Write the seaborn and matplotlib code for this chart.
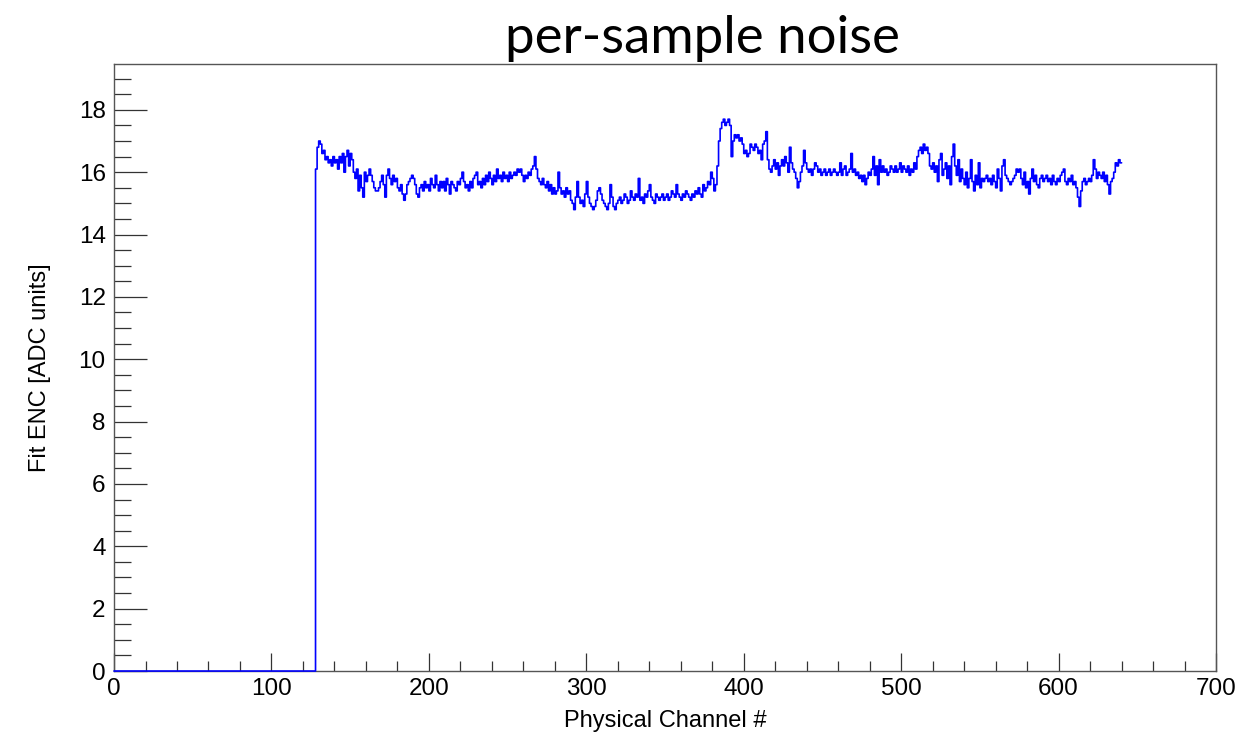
import numpy as np
import pandas as pd
import matplotlib
matplotlib.use("Agg")
import matplotlib.pyplot as plt
import seaborn as sns
from matplotlib.ticker import MultipleLocator

# ---- data -------------------------------------------------------------
first_channel = 128          # channels below this read 0
n_channels = 640
noise = [
    16.1, 16.8, 17.0, 16.9, 16.6, 16.7, 16.4, 16.5, 16.3, 16.4, 16.2, 16.5, 16.3, 16.4, 16.1, 16.5,
    16.3, 16.6, 16.0, 16.5, 16.7, 16.2, 16.6, 16.4, 16.0, 15.8, 16.1, 15.4, 15.9, 15.5, 15.2, 16.0,
    15.7, 15.9, 16.1, 15.9, 15.7, 15.5, 15.4, 15.4, 15.5, 15.7, 15.9, 15.6, 15.2, 15.9, 16.1, 15.8,
    15.6, 15.9, 15.7, 15.8, 15.5, 15.4, 15.6, 15.3, 15.1, 15.3, 15.6, 15.7, 15.8, 15.9, 15.8, 15.6,
    15.3, 15.2, 15.5, 15.6, 15.4, 15.7, 15.5, 15.6, 15.4, 15.8, 15.6, 15.5, 15.9, 15.6, 15.4, 15.7,
    15.5, 15.7, 15.4, 15.8, 15.6, 15.3, 15.7, 15.6, 15.5, 15.4, 15.7, 15.6, 15.8, 16.0, 15.7, 15.5,
    15.6, 15.4, 15.7, 15.5, 15.8, 15.9, 16.0, 15.6, 15.7, 15.5, 15.8, 15.6, 15.9, 15.7, 16.0, 15.8,
    15.6, 15.9, 15.7, 16.1, 15.8, 15.9, 15.7, 16.0, 15.8, 15.9, 15.7, 16.0, 15.8, 15.9, 16.0, 15.9,
    16.1, 16.0, 16.1, 15.9, 15.7, 15.9, 15.8, 16.0, 15.9, 16.1, 16.2, 16.5, 16.1, 15.8, 15.7, 15.6,
    15.8, 15.6, 15.5, 15.7, 15.4, 15.6, 15.3, 15.5, 15.3, 15.4, 16.0, 15.5, 15.3, 15.4, 15.2, 15.5,
    15.3, 15.4, 15.1, 15.0, 14.8, 15.2, 15.7, 15.2, 15.0, 15.1, 14.9, 15.3, 15.7, 15.2, 15.0, 14.9,
    14.8, 14.9, 15.1, 15.4, 15.5, 15.3, 15.1, 15.0, 14.9, 14.8, 15.0, 15.6, 15.2, 14.9, 14.8, 15.0,
    15.1, 15.2, 15.0, 15.1, 15.3, 15.2, 15.0, 15.1, 15.4, 15.2, 15.1, 15.3, 15.2, 15.8, 15.1, 15.2,
    15.0, 15.3, 15.2, 15.4, 15.6, 15.2, 15.1, 15.0, 15.3, 15.2, 15.1, 15.2, 15.3, 15.1, 15.2, 15.3,
    15.1, 15.2, 15.4, 15.3, 15.2, 15.6, 15.3, 15.2, 15.1, 15.3, 15.2, 15.4, 15.3, 15.2, 15.1, 15.3,
    15.2, 15.4, 15.3, 15.5, 15.3, 15.2, 15.6, 15.4, 15.5, 15.7, 15.6, 16.0, 15.8, 15.4, 15.6, 16.2,
    17.0, 17.4, 17.6, 17.7, 17.5, 17.6, 17.7, 17.5, 16.5, 17.0, 17.2, 17.1, 17.2, 17.0, 17.1, 16.9,
    16.6, 16.7, 16.5, 16.6, 16.9, 16.8, 16.7, 16.9, 16.8, 16.6, 16.7, 16.4, 16.9, 17.0, 17.3, 16.4,
    16.1, 16.0, 16.2, 16.4, 16.1, 16.3, 15.9, 16.2, 16.4, 16.2, 16.5, 16.3, 16.0, 16.8, 16.3, 16.1,
    16.0, 15.8, 15.5, 15.7, 16.0, 16.2, 16.7, 16.3, 16.1, 16.0, 16.1, 15.9, 16.1, 16.3, 16.2, 16.0,
    16.1, 15.9, 16.0, 16.1, 15.9, 16.0, 16.1, 15.9, 16.0, 16.1, 16.0, 15.9, 16.0, 16.3, 15.9, 16.1,
    16.2, 15.9, 16.0, 16.1, 16.6, 16.0, 16.1, 15.9, 16.0, 15.8, 15.9, 15.7, 15.9, 15.6, 15.8, 16.0,
    15.9, 16.1, 16.5, 15.9, 16.2, 15.6, 16.4, 16.0, 16.2, 16.0, 16.1, 15.9, 16.0, 16.2, 16.1, 16.0,
    16.2, 16.0, 16.1, 16.3, 16.0, 16.2, 16.1, 16.0, 16.2, 15.9, 16.1, 16.0, 16.3, 16.1, 16.5, 16.7,
    16.8, 16.6, 16.9, 16.7, 16.8, 16.6, 16.2, 16.1, 16.3, 16.0, 16.2, 15.7, 16.4, 16.6, 15.9, 16.1,
    16.3, 15.8, 16.2, 15.6, 16.5, 16.9, 16.2, 15.9, 16.4, 15.7, 16.1, 15.8, 15.6, 16.0, 15.5, 15.8,
    16.4, 15.7, 15.4, 15.9, 15.6, 16.3, 15.5, 15.8, 15.7, 15.8, 15.9, 15.7, 15.8, 15.6, 15.9, 15.7,
    15.5, 16.1, 15.8, 15.4, 16.2, 16.4, 15.9, 15.8, 15.7, 15.6, 15.7, 15.8, 15.9, 16.1, 16.0, 16.1,
    15.8, 15.6, 16.0, 15.5, 15.7, 15.3, 15.8, 16.1, 15.7, 15.9, 15.6, 15.5, 15.8, 15.9, 15.7, 15.8,
    15.9, 15.7, 15.8, 15.6, 15.9, 15.7, 15.6, 15.8, 15.7, 15.9, 16.0, 16.1, 15.7, 15.6, 15.8, 15.7,
    15.9, 15.6, 15.7, 15.5, 15.2, 14.9, 15.4, 15.7, 15.8, 15.6, 15.7, 15.8, 15.7, 15.9, 16.4, 16.1,
    15.8, 16.0, 15.9, 15.8, 16.0, 15.7, 15.9, 15.6, 15.3, 15.7, 15.8, 16.0, 16.3, 16.2, 16.4, 16.3,
]
x_ticks = [0, 100, 200, 300, 400, 500, 600, 700]
y_ticks = [0, 2, 4, 6, 8, 10, 12, 14, 16, 18]
title = "per-sample noise"
x_label = "Physical Channel #"
y_label = "Fit ENC [ADC units]"

# ---- build histogram edges -----------------------------------------------
values = np.concatenate([np.zeros(first_channel), np.array(noise)])
edges = np.arange(0, n_channels + 1)
heights = np.append(values, values[-1])
df = pd.DataFrame({"channel": edges, "enc": heights})

# ---- plot -------------------------------------------------------------
sns.set_theme(style="ticks")
plt.rcParams["font.family"] = ["Liberation Sans", "DejaVu Sans"]
plt.rcParams["text.color"] = "black"
plt.rcParams["axes.labelcolor"] = "black"
plt.rcParams["xtick.labelcolor"] = "black"
plt.rcParams["ytick.labelcolor"] = "black"

fig = plt.figure(figsize=(12.53, 7.34), dpi=100)
ax = fig.add_axes([0.091, 0.0858, 0.8795, 0.827])

sns.lineplot(data=df, x="channel", y="enc", drawstyle="steps-post",
             color="#0000ff", linewidth=1.2, estimator=None, ax=ax,
             clip_on=False, zorder=5)

ax.set_xlim(0, 700)
ax.set_ylim(0, 19.47)
ax.set_xticks(x_ticks)
ax.set_yticks(y_ticks)
ax.xaxis.set_minor_locator(MultipleLocator(20))
ax.yaxis.set_minor_locator(MultipleLocator(0.5))

ax.tick_params(axis="x", which="major", direction="in", length=13, width=0.9,
               color="#333333", labelsize=17.5, pad=5, labelcolor="black")
ax.tick_params(axis="x", which="minor", direction="in", length=7, width=0.9,
               color="#333333")
ax.tick_params(axis="y", which="major", direction="in", length=24, width=0.9,
               color="#333333", labelsize=17.5, pad=6, labelcolor="black")
ax.tick_params(axis="y", which="minor", direction="in", length=12, width=0.9,
               color="#333333")

for side in ["left", "right", "top", "bottom"]:
    ax.spines[side].set_visible(True)
    ax.spines[side].set_color("#555555")
    ax.spines[side].set_linewidth(1.0)

ax.set_xlabel(x_label, fontsize=17, labelpad=7, color="black")
ax.set_ylabel(y_label, fontsize=17, labelpad=20, color="black")

fig.text(0.561, 0.948, title, ha="center", va="center",
         fontsize=38, color="black", family=["Lato", "DejaVu Sans"])

fig.savefig("out.png", dpi=100)
